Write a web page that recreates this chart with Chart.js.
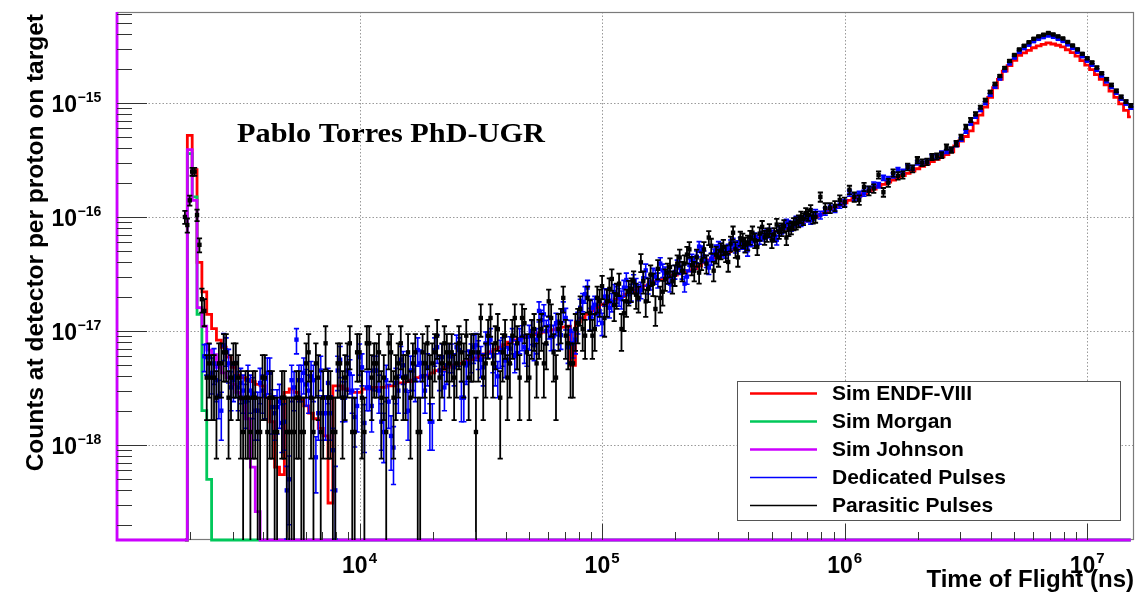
<!DOCTYPE html>
<html>
<head>
<meta charset="utf-8">
<script src="https://cdn.jsdelivr.net/npm/chart.js@4.4.0/dist/chart.umd.min.js"></script>
<style>
  html, body { margin: 0; padding: 0; background: #fff; }
  canvas { display: block; }
</style>
</head>
<body>
<canvas id="tof" width="1138" height="594"></canvas>
<script>
// counts per proton on target, stored in units of 1e-18
const UNIT = 1e-18;
// log binning of the TOF histograms: first bin centre and bins per decade
const FIRST_BIN_LOG10 = 3.28;
const BINS_PER_DECADE = 50;

const X_MIN = 1000, X_MAX = 1.56e7;
const Y_MIN = 1.468e-19, Y_MAX = 6.28e-15;

const seriesNames = ['Sim ENDF-VIII', 'Sim Morgan', 'Sim Johnson', 'Dedicated Pulses', 'Parasitic Pulses'];
const seriesColors = ['#ff0000', '#00c85a', '#cc00ff', '#0000ff', '#000000'];

const xDecades = [4, 5, 6, 7];
const yDecades = [-18, -17, -16, -15];

const simEndf = [
  0, 520, 260, 40, 22, 14, 10.5, 8.3, 7.2, 5.9,
  4.8, 4.1, 3.9, 3.7, 3.6, 3.4, 3.3, 2.6, 1.6, 0.64,
  0.55, 2.9, 3.1, 2.9, 2.5, 2.2, 1.9, 1.7, 1.4, 1.2,
  0.31, 3.3, 3.3, 3.1, 3.0, 2.9, 2.9, 3.1, 3.1, 3.2,
  3.2, 3.2, 3.3, 3.3, 3.5, 3.5, 3.6, 3.7, 3.9, 4.0,
  4.1, 4.3, 4.5, 4.6, 4.8, 5.0, 5.1, 5.2, 5.4, 5.6,
  5.8, 6.0, 6.3, 6.6, 6.9, 7.2, 7.6, 8.0, 8.3, 8.6,
  8.8, 9.0, 9.3, 9.6, 9.8, 10, 10.3, 10.6, 10.8, 11,
  5.0, 12, 13, 14, 15, 16, 17, 17.5, 18, 19,
  20, 21, 22, 23, 24, 25, 26.6, 27.4, 28.2, 29.1,
  29.9, 30.9, 31.8, 32.7, 33.7, 35.3, 37.3, 39.6, 42.0, 43.8,
  45.7, 47.6, 49.7, 52.0, 54.3, 56.9, 59.6, 62.2, 64.8, 67.4,
  70.1, 72.2, 74.4, 76.8, 79.0, 81.4, 84.7, 88.2, 91.9, 95.8,
  100, 105, 110, 116, 121, 127, 133, 140, 146, 153,
  160, 168, 176, 185, 193, 202, 211, 221, 231, 241,
  253, 265, 278, 292, 306, 320, 337, 353, 372, 420,
  464, 508, 570, 666, 782, 919, 1120, 1360, 1610, 1900,
  2130, 2370, 2610, 2750, 2890, 3050, 3170, 3260, 3360, 3290,
  3210, 3100, 2930, 2770, 2580, 2350, 2150, 1960, 1770, 1610,
  1440, 1270, 1120, 980, 861, 755
];

// later bins are empty
const simMorgan = [0, 360, 150, 14, 2.0, 0.5];
const simJohnson = [0, 390, 140, 16, 11, 6.8, 6.2, 4.8, 4.3, 3.9, 3.4, 2.9, 2.5, 1.7, 0.64, 0.26];
// first Johnson bin sits at the axis start and is off scale
const johnsonFirstBin = 1e5;

// measured spectra use bins twice as fine: values on the simulation bins,
// then the in-between bins (*Mid), given up to ~9e5 ns
const dedicated = [
  null, null, null, null, 6.0, 5.9, 5.2, 2.7, 7.5, 5.2,
  3.7, 3.2, 3.0, 3.7, 2.8, 2.0, 3.0, 4.3, 2.15, 2.15,
  1.56, 0.4, 3.7, 8.4, 3.7, 3.4, 4.0, 0.78, 4.5, 1.9,
  1.9, 0.4, 5.6, 2.6, 4.2, 1.76, 5.9, 1.56, 3.2, 4.5,
  3.0, 1.3, 2.4, 0.95, 3.0, 5.0, 2.0, 4.5, 6.8, 4.0,
  4.8, 1.6, 7.2, 5.9, 5.0, 6.0, 7.2, 2.6, 5.0, 6.0,
  7.5, 5.6, 7.8, 8.4, 4.8, 6.5, 5.5, 7.0, 6.0, 8.4,
  7.2, 9.0, 7.5, 15, 14, 11, 9.0, 10, 15, 7.2,
  7.8, 12, 18, 24, 16, 14, 11.7, 20, 18, 21,
  19, 28, 22, 25, 23, 34, 27, 30, 39, 32,
  26, 33, 36, 26, 38, 40, 55, 45, 36, 47,
  55, 50, 52, 59, 56, 58, 51, 62, 63, 68,
  72, 70, 63, 78, 88, 82, 94, 90, 100, 94,
  108, 104, 112, 122, 118, 128, 133, 162, 150, 158,
  162, 175, 192, 190, 221, 215, 232, 259, 250, 275,
  270, 299, 295, 310, 337, 340, 364, 375, 387, 430,
  480, 560, 660, 760, 870, 1000, 1180, 1390, 1640, 1930,
  2220, 2500, 2800, 3020, 3240, 3480, 3650, 3780, 3900, 3800,
  3650, 3500, 3260, 3040, 2810, 2570, 2350, 2160, 1950, 1740,
  1550, 1380, 1230, 1090, 990, 910
];
const dedicatedErr = [
  null, null, null, null, 1.6, 1.8, 1.8, 1.0, 2.0, 1.7,
  1.3, 1.2, 1.1, 1.3, 1.1, 0.9, 1.1, 1.5, 0.9, 0.9,
  0.7, 0.25, 1.3, 2.1, 1.3, 1.2, 1.4, 0.4, 1.5, 0.8,
  0.8, 0.25, 1.7, 1.0, 1.4, 0.8, 1.8, 0.7, 1.2, 1.5,
  1.1, 0.6, 1.0, 0.5, 1.1, 1.6, 0.9, 1.5, 1.9, 1.4,
  1.5, 0.7, 2.0, 1.8, 1.6, 1.7, 2.0, 1.0, 1.6, 1.7,
  2.0, 1.7, 2.0, 2.1, 1.5, 1.8, 1.6, 1.9, 1.7, 2.1,
  2.0, 2.2, 2.0, 3.0, 3.0, 2.5, 2.2, 2.4, 3.0, 2.0,
  2.0, 2.6, 3.3, 3.8, 3.0, 2.9, 2.6, 3.5, 3.3, 3.5,
  3.4, 4.2, 3.7, 3.9, 3.8, 4.6, 4.1, 4.3, 4.9, 4.4,
  4.0, 4.5, 4.7, 4.0, 4.8, 5.0, 5.8, 5.3, 4.7, 5.4,
  5.8, 5.5, 5.6, 6.0, 5.8, 5.9, 5.6, 6.2, 6.2, 6.5,
  6.6, 6.5, 6.2, 6.9, 7.3, 7.0, 7.5, 7.4, 7.8, 7.5,
  8.0, 7.9, 8.2, 8.6, 8.4, 8.7, 8.9, 9.9, 9.5, 9.8,
  9.9, 10.3, 10.8, 10.7, 11.6, 11.4, 11.9, 12.5, 12.3, 12.9,
  12.8, 13.4, 13.3, 13.6, 14.2, 14.3, 14.8, 15, 15.3, 16,
  17, 18, 20, 25, 27, 29, 31, 34, 37, 40,
  43, 45, 48, 50, 52, 54, 55, 56, 57, 56,
  55, 54, 52, 50, 48, 46, 44, 42, 40, 38,
  36, 34, 32, 30, 29, 28
];
const dedicatedMid = [
  null, null, null, null, 5.9, 4.3, 3.7, 2.0, 6.8, 3.2,
  4.0, 3.5, 2.4, 3.0, 2.0, 3.5, 2.7, 4.3, 1.9, 2.4,
  1.6, 0.5, 3.2, 3.7, 4.3, 3.0, 3.7, 1.9, 1.9, 3.5,
  0.9, 4.5, 2.6, 4.5, 3.0, 2.2, 4.8, 3.2, 2.2, 4.5,
  1.6, 3.7, 1.2, 3.5, 5.6, 3.0, 4.5, 3.7, 5.2, 3.0,
  1.6, 6.8, 4.5, 3.2, 6.0, 4.8, 6.8, 2.6, 5.2, 7.2,
  6.4, 4.8, 7.8, 6.0, 4.0, 6.8, 5.6, 8.4, 6.4, 8.9,
  6.8, 10, 8.4, 12.5, 10, 8.9, 11.7, 9.2, 13, 10,
  8.4, 16, 21, 13, 17, 15, 20, 16, 22, 20,
  24, 21, 27, 22, 29, 25, 31, 28, 34, 30,
  29, 37, 33, 30, 42, 45, 50, 41, 43, 51,
  53, 49, 57, 54, 60, 55, 61, 66, 64, 70,
  73, 67, 75, 80, 86, 84, 92, 95, 98, 101
];
const dedicatedMidErr = [
  null, null, null, null, 1.8, 1.5, 1.3, 0.9, 1.9, 1.2,
  1.4, 1.2, 1.0, 1.1, 0.9, 1.2, 1.0, 1.5, 0.8, 1.0,
  0.7, 0.3, 1.2, 1.3, 1.5, 1.1, 1.3, 0.8, 0.8, 1.2,
  0.5, 1.5, 1.0, 1.5, 1.1, 0.9, 1.5, 1.2, 0.9, 1.5,
  0.7, 1.3, 0.6, 1.2, 1.7, 1.1, 1.5, 1.3, 1.6, 1.1,
  0.7, 1.9, 1.5, 1.2, 1.7, 1.5, 1.9, 1.0, 1.6, 2.0,
  1.8, 1.5, 2.0, 1.7, 1.4, 1.9, 1.7, 2.1, 1.8, 2.2,
  1.9, 2.4, 2.1, 2.7, 2.4, 2.2, 2.6, 2.3, 2.8, 2.4,
  2.1, 3.0, 3.5, 2.8, 3.1, 2.9, 3.5, 3.0, 3.6, 3.5,
  3.8, 3.5, 4.1, 3.6, 4.2, 3.9, 4.4, 4.2, 4.6, 4.3,
  4.2, 4.8, 4.5, 4.3, 5.1, 5.3, 5.5, 5.0, 5.2, 5.6,
  5.7, 5.5, 5.9, 5.7, 6.0, 5.8, 6.1, 6.4, 6.3, 6.5,
  6.7, 6.4, 6.8, 7.0, 7.2, 7.1, 7.4, 7.6, 7.7, 7.8
];

const parasitic = [
  100, 140, 250, 57, 15, 5.2, 3.9, 5.2, 6.5, 2.6,
  5.2, 3.9, 1.3, 2.6, 2.6, 1.3, 3.9, 1.3, 2.6, 1.3,
  2.6, 1.3, 1.3, 2.6, 1.3, 5.2, 2.6, 5.2, 1.3, 7.8,
  2.6, 1.3, 5.2, 3.9, 7.8, 1.3, 6.5, 1.3, 7.8, 5.2,
  6.5, 3.9, 7.8, 2.6, 5.2, 3.9, 6.5, 5.2, 1.3, 6.5,
  7.8, 5.2, 9.1, 5.2, 6.5, 6.5, 5.2, 6.5, 9.1, 6.5,
  1.3, 13, 5.2, 13, 7.8, 2.6, 9.1, 5.2, 13, 3.9,
  11.7, 3.9, 10.4, 9.1, 5.2, 18.2, 6.5, 10.4, 19.5, 7.8,
  5.2, 11.7, 10.4, 19.5, 9.1, 19.5, 24.7, 18.2, 28.6, 20.8,
  10.4, 18.2, 23.4, 20.8, 40, 18.2, 31.2, 15.6, 19.5, 28.6,
  36.4, 31.2, 44.2, 39, 52, 33.8, 32.5, 52, 66, 33.8,
  44.2, 54.6, 40.3, 72.8, 44.2, 62.4, 59.8, 72.8, 54.6, 81.9,
  70, 62.4, 85.8, 78, 66, 80.6, 88.4, 100, 108, 115,
  100, 150, 120, 120, 125, 141, 135, 173, 150, 141,
  184, 170, 178, 234, 165, 200, 244, 230, 234, 275,
  265, 316, 300, 305, 337, 340, 350, 411, 387, 440,
  503, 617, 709, 801, 919, 1060, 1249, 1468, 1725, 2028,
  2336, 2636, 2947, 3176, 3409, 3659, 3839, 3973, 4110, 3990,
  3839, 3680, 3428, 3194, 2953, 2701, 2467, 2266, 2045, 1822,
  1620, 1439, 1277, 1131, 1029, 949
];
const parasiticErr = [
  13, 14, 20, 8, 4, 2.6, 2.25, 2.6, 2.9, 1.84,
  2.6, 2.25, 1.3, 1.84, 1.84, 1.3, 2.25, 1.3, 1.84, 1.3,
  1.84, 1.3, 1.3, 1.84, 1.3, 2.6, 1.84, 2.6, 1.3, 3.2,
  1.84, 1.3, 2.6, 2.25, 3.2, 1.3, 2.9, 1.3, 3.2, 2.6,
  2.9, 2.25, 3.2, 1.84, 2.6, 2.25, 2.9, 2.6, 1.3, 2.9,
  3.2, 2.6, 3.4, 2.6, 2.9, 2.9, 2.6, 2.9, 3.4, 2.9,
  1.3, 4.1, 2.6, 4.1, 3.2, 1.84, 3.4, 2.6, 4.1, 2.25,
  3.9, 2.25, 3.7, 3.4, 2.6, 4.9, 2.9, 3.7, 5.0, 3.2,
  2.6, 3.9, 3.7, 5.0, 3.4, 5.0, 5.7, 4.9, 6.1, 5.2,
  3.7, 4.9, 5.5, 5.2, 7.2, 4.9, 6.4, 4.5, 5.0, 6.1,
  6.9, 6.4, 7.6, 7.1, 8.2, 6.6, 6.5, 8.2, 9.3, 6.6,
  7.6, 8.4, 7.2, 9.7, 7.6, 9.0, 8.8, 9.7, 8.4, 10.3,
  9.5, 9.0, 10.6, 10, 9.3, 10.2, 10.7, 11.4, 11.8, 12,
  11, 14, 12, 12, 12.5, 13.5, 13, 15, 14, 13.5,
  15.5, 15, 15, 17.4, 14.6, 16, 17.8, 17, 17.4, 19,
  18.5, 20, 20, 20, 21, 21, 21, 23, 22, 24,
  25, 28, 30, 28, 30, 33, 35, 38, 40, 45,
  48, 50, 54, 56, 58, 60, 62, 63, 64, 63,
  62, 61, 58, 56, 54, 52, 50, 48, 45, 43,
  40, 38, 36, 34, 32, 31
];
const parasiticMid = [
  85, 250, 104, 19, 3.9, 3.9, 2.6, 5.2, 6.5, 3.9,
  5.2, 2.6, 2.6, 1.3, 2.6, 1.3, 3.9, 2.6, 1.3, null,
  2.6, 1.3, 1.3, 2.6, 1.3, 6.5, 1.3, 3.9, 2.6, 2.6,
  1.3, 5.2, 2.6, 5.2, 1.3, 6.5, 2.6, 7.8, 3.9, 5.2,
  2.6, 1.3, 6.5, 3.9, 7.8, 3.9, 2.6, 6.5, 1.3, 5.2,
  3.9, 6.5, 3.9, 7.8, 5.2, 3.9, 7.8, 5.2, 3.9, 6.5,
  6.5, 3.9, 9.1, 5.2, 10.4, 6.5, 3.9, 9.1, 7.8, 13,
  6.5, 9.1, 5.2, 10.4, 7.8, 13, 3.9, 11.7, 9.1, 5.2,
  10.4, 15.6, 9.1, 14.3, 10.4, 18.2, 13, 23.4, 16.9, 26,
  14.3, 22.1, 27.3, 19.5, 27.3, 23.4, 26, 35.1, 22.1, 32.5,
  27.3, 39, 33.8, 46.8, 37.7, 44.2, 41.6, 39, 55.9, 46.8,
  50.7, 48.1, 58.5, 52, 65, 57.2, 66.3, 62.4, 71.5, 66.3,
  76.7, 70.2, 74.1, 83.2, 78, 87.1, 92.3, 96.2, 104, 98.8
];
const parasiticMidErr = [
  12, 20, 12, 4.5, 2.25, 2.25, 1.84, 2.6, 2.9, 2.25,
  2.6, 1.84, 1.84, 1.3, 1.84, 1.3, 2.25, 1.84, 1.3, null,
  1.84, 1.3, 1.3, 1.84, 1.3, 2.9, 1.3, 2.25, 1.84, 1.84,
  1.3, 2.6, 1.84, 2.6, 1.3, 2.9, 1.84, 3.2, 2.25, 2.6,
  1.84, 1.3, 2.9, 2.25, 3.2, 2.25, 1.84, 2.9, 1.3, 2.6,
  2.25, 2.9, 2.25, 3.2, 2.6, 2.25, 3.2, 2.6, 2.25, 2.9,
  2.9, 2.25, 3.4, 2.6, 3.7, 2.9, 2.25, 3.4, 3.2, 4.1,
  2.9, 3.4, 2.6, 3.7, 3.2, 4.1, 2.25, 3.9, 3.4, 2.6,
  3.7, 4.5, 3.4, 4.3, 3.7, 4.9, 4.1, 5.5, 4.7, 5.8,
  4.3, 5.4, 6.0, 5.0, 6.0, 5.5, 5.8, 6.8, 5.4, 6.5,
  6.0, 7.1, 6.6, 7.8, 7.0, 7.6, 7.4, 7.1, 8.5, 7.8,
  8.1, 7.9, 8.7, 8.2, 9.2, 8.6, 9.3, 9.0, 9.6, 9.3,
  10, 9.5, 9.8, 10.4, 10, 10.6, 11, 11.2, 11.6, 11.3
];

const tofBins = simEndf.map((_, k) => Math.pow(10, FIRST_BIN_LOG10 + k / BINS_PER_DECADE));

const SANS = '"Liberation Sans", Arial, Helvetica, sans-serif';

// empty bins are drawn on the frame bottom, as ROOT does on a log axis
function histData(vals) {
  return tofBins.map((x, k) => ({ x: x, y: vals[k] ? vals[k] * UNIT : Y_MIN }));
}
function measured(vals, errs, midVals, midErrs) {
  const data = [], errors = [];
  tofBins.forEach((x, k) => {
    data.push({ x: x, y: vals[k] == null ? null : vals[k] * UNIT });
    errors.push(errs[k]);
    if (k < midVals.length) {
      const xm = Math.pow(10, FIRST_BIN_LOG10 + (k + 0.5) / BINS_PER_DECADE);
      data.push({ x: xm, y: midVals[k] == null ? null : midVals[k] * UNIT });
      errors.push(midErrs[k]);
    }
  });
  return { data: data, errors: errors };
}

const johnsonData = [{ x: X_MIN, y: johnsonFirstBin * UNIT }, { x: X_MIN, y: Y_MIN }].concat(histData(simJohnson));

function histDataset(i, data, order) {
  return {
    label: seriesNames[i], data: data, showLine: true, stepped: 'middle',
    borderColor: seriesColors[i], borderWidth: 2.8, pointRadius: 0, order: order,
    clip: { left: 3, right: 0, top: 0, bottom: 3 }
  };
}
function pointDataset(i, m, order) {
  return {
    label: seriesNames[i], data: m.data, errors: m.errors, showLine: false,
    borderColor: seriesColors[i], backgroundColor: seriesColors[i],
    pointStyle: 'rect', pointRadius: 3.1, pointBorderWidth: 0,
    pointBackgroundColor: seriesColors[i], order: order
  };
}

const rootStyle = {
  id: 'rootStyle',
  beforeDraw(chart) {
    const ctx = chart.ctx;
    ctx.save();
    ctx.fillStyle = '#fff';
    ctx.fillRect(0, 0, chart.width, chart.height);
    ctx.restore();
  },
  beforeDatasetsDraw(chart) {
    const { ctx, chartArea: a, scales: { x, y } } = chart;
    ctx.save();
    ctx.strokeStyle = '#9a9a9a';
    ctx.lineWidth = 1;
    ctx.setLineDash([1.5, 2]);
    xDecades.forEach(e => {
      const px = Math.round(x.getPixelForValue(Math.pow(10, e))) + 0.5;
      ctx.beginPath(); ctx.moveTo(px, a.top); ctx.lineTo(px, a.bottom); ctx.stroke();
    });
    yDecades.forEach(e => {
      const py = Math.round(y.getPixelForValue(Math.pow(10, e))) + 0.5;
      ctx.beginPath(); ctx.moveTo(a.left, py); ctx.lineTo(a.right, py); ctx.stroke();
    });
    ctx.setLineDash([]);
    ctx.strokeStyle = '#7a7a7a';
    ctx.lineWidth = 1.2;
    ctx.strokeRect(a.left + 0.5, a.top + 0.5, a.right - a.left - 1, a.bottom - a.top - 1);
    ctx.restore();
  },
  beforeDatasetDraw(chart, args) {
    const ds = chart.data.datasets[args.index];
    if (!ds.errors) return;
    const { ctx, chartArea: a, scales: { x, y } } = chart;
    ctx.save();
    ctx.beginPath();
    ctx.rect(a.left, a.top, a.right - a.left, a.bottom - a.top);
    ctx.clip();
    ctx.strokeStyle = ds.borderColor;
    ctx.lineWidth = ds.borderColor === '#000000' ? 1.8 : 1.6;
    ds.data.forEach((p, k) => {
      if (p.y == null) return;
      const err = ds.errors[k] * UNIT;
      const px = x.getPixelForValue(p.x);
      const top = y.getPixelForValue(p.y + err);
      const low = p.y - err;
      const bot = low > 0 ? y.getPixelForValue(low) : a.bottom + 2;
      ctx.beginPath();
      ctx.moveTo(px, top); ctx.lineTo(px, bot);
      ctx.moveTo(px - 2.6, top); ctx.lineTo(px + 2.6, top);
      if (low > 0) { ctx.moveTo(px - 2.6, bot); ctx.lineTo(px + 2.6, bot); }
      ctx.stroke();
    });
    ctx.restore();
  },
  afterDatasetsDraw(chart) {
    const { ctx, chartArea: a, scales: { x, y } } = chart;
    ctx.save();

    // ticks, inside the frame
    ctx.strokeStyle = '#333';
    ctx.lineWidth = 1;
    for (let e = -19; e <= -15; e++) {
      for (let m = 1; m <= 9; m++) {
        const v = m * Math.pow(10, e);
        if (v < Y_MIN || v > Y_MAX) continue;
        const py = Math.round(y.getPixelForValue(v)) + 0.5;
        ctx.beginPath(); ctx.moveTo(a.left, py); ctx.lineTo(a.left + (m === 1 ? 30 : 15), py); ctx.stroke();
      }
    }
    for (let e = 3; e <= 7; e++) {
      for (let m = 1; m <= 9; m++) {
        const v = m * Math.pow(10, e);
        if (v <= X_MIN || v > X_MAX) continue;
        const px = Math.round(x.getPixelForValue(v)) + 0.5;
        ctx.beginPath(); ctx.moveTo(px, a.bottom); ctx.lineTo(px, a.bottom - (m === 1 ? 16 : 8)); ctx.stroke();
      }
    }

    // tick labels 10^n
    ctx.fillStyle = '#000';
    ctx.textBaseline = 'alphabetic';
    yDecades.forEach(e => {
      const py = y.getPixelForValue(Math.pow(10, e));
      ctx.font = 'bold 23px ' + SANS;
      ctx.textAlign = 'right';
      ctx.fillText('10', 77, py + 9.5);
      ctx.font = 'bold 14px ' + SANS;
      ctx.textAlign = 'left';
      ctx.fillText('\u2212' + (-e), 77.5, py - 1);
    });
    xDecades.forEach(e => {
      const px = x.getPixelForValue(Math.pow(10, e));
      ctx.font = 'bold 23px ' + SANS;
      const w1 = ctx.measureText('10').width;
      ctx.font = 'bold 15px ' + SANS;
      const w2 = ctx.measureText(String(e)).width;
      const start = px - (w1 + w2 + 1) / 2;
      ctx.textAlign = 'left';
      ctx.font = 'bold 23px ' + SANS;
      ctx.fillText('10', start, 573);
      ctx.font = 'bold 15px ' + SANS;
      ctx.fillText(String(e), start + w1 + 1, 563);
    });

    // axis titles
    ctx.font = 'bold 24px ' + SANS;
    ctx.textAlign = 'right';
    ctx.fillText('Time of Flight (ns)', 1134, 587);
    ctx.save();
    ctx.translate(43, 14);
    ctx.rotate(-Math.PI / 2);
    ctx.font = 'bold 24.5px ' + SANS;
    ctx.fillText('Counts at detector per proton on target', 0, 0);
    ctx.restore();

    // watermark
    ctx.font = 'bold 27px "Liberation Serif", "DejaVu Serif", serif';
    ctx.textAlign = 'left';
    const mark = 'Pablo Torres PhD-UGR';
    const mw = ctx.measureText(mark).width;
    ctx.save();
    ctx.translate(237, 142);
    ctx.scale(308 / mw, 1);
    ctx.fillText(mark, 0, 0);
    ctx.restore();

    // legend
    ctx.fillStyle = '#fff';
    ctx.fillRect(737, 381, 383, 139);
    ctx.strokeStyle = '#555';
    ctx.lineWidth = 1;
    ctx.strokeRect(737.5, 381.5, 383, 139);
    seriesNames.forEach((name, i) => {
      const ly = 393.5 + 28 * i;
      ctx.strokeStyle = seriesColors[i];
      ctx.lineWidth = i < 3 ? 2.6 : 1.3;
      ctx.beginPath(); ctx.moveTo(750, ly); ctx.lineTo(817, ly); ctx.stroke();
      ctx.fillStyle = '#000';
      ctx.font = 'bold 21px ' + SANS;
      ctx.textAlign = 'left';
      ctx.fillText(name, 832, ly + 6.5);
    });
    ctx.restore();
  }
};

new Chart(document.getElementById('tof'), {
  type: 'scatter',
  data: {
    datasets: [
      pointDataset(4, measured(parasitic, parasiticErr, parasiticMid, parasiticMidErr), 0),
      pointDataset(3, measured(dedicated, dedicatedErr, dedicatedMid, dedicatedMidErr), 1),
      histDataset(2, johnsonData, 2),
      histDataset(1, histData(simMorgan), 3),
      histDataset(0, histData(simEndf), 4)
    ]
  },
  options: {
    responsive: false,
    animation: false,
    devicePixelRatio: 1,
    events: [],
    layout: { padding: { left: 117, top: 12, right: 2, bottom: 54 } },
    plugins: { legend: { display: false }, tooltip: { enabled: false } },
    scales: {
      x: { type: 'logarithmic', min: X_MIN, max: X_MAX, display: false },
      y: { type: 'logarithmic', min: Y_MIN, max: Y_MAX, display: false }
    }
  },
  plugins: [rootStyle]
});
</script>
</body>
</html>
